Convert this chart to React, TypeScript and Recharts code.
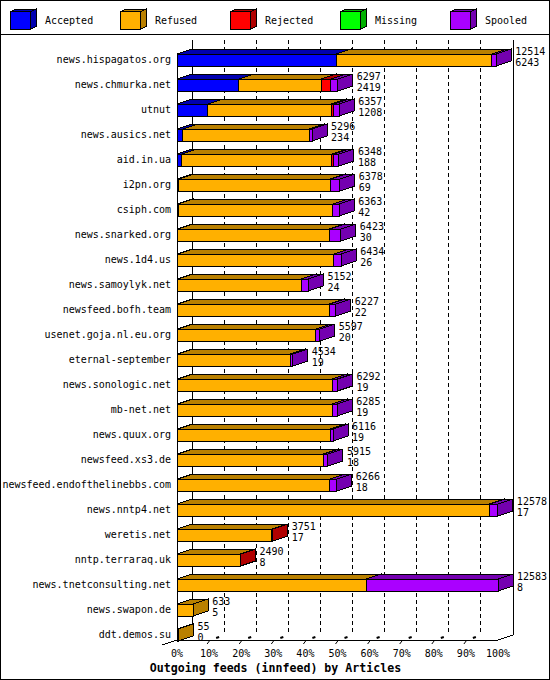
import React from "react";
import {
  BarChart,
  Bar,
  XAxis,
  YAxis,
  CartesianGrid,
  ReferenceArea,
  LabelList,
  Legend,
  Label,
} from "recharts";

const NAMES = [
  "news.hispagatos.org",
  "news.chmurka.net",
  "utnut",
  "news.ausics.net",
  "aid.in.ua",
  "i2pn.org",
  "csiph.com",
  "news.snarked.org",
  "news.1d4.us",
  "news.samoylyk.net",
  "newsfeed.bofh.team",
  "usenet.goja.nl.eu.org",
  "eternal-september",
  "news.sonologic.net",
  "mb-net.net",
  "news.quux.org",
  "newsfeed.xs3.de",
  "newsfeed.endofthelinebbs.com",
  "news.nntp4.net",
  "weretis.net",
  "nntp.terraraq.uk",
  "news.tnetconsulting.net",
  "news.swapon.de",
  "ddt.demos.su",
];

const OFFERED = [
  12514, 6297, 6357, 5296, 6348, 6378, 6363, 6423, 6434, 5152, 6227, 5597,
  4534, 6292, 6285, 6116, 5915, 6266, 12578, 3751, 2490, 12583, 633, 55,
];
const ACCEPTED = [
  6243, 2419, 1208, 234, 188, 69, 42, 30, 26, 24, 22, 20, 19, 19, 19, 19, 18,
  18, 17, 17, 8, 8, 5, 0,
];
const REFUSED = [
  6101, 3230, 4836, 4962, 5886, 5950, 6073, 5949, 6118, 4841, 5957, 5427,
  4420, 6064, 6066, 5979, 5710, 5974, 12234, 3700, 2462, 7401, 628, 55,
];
const REJECTED = [
  0, 376, 105, 0, 78, 0, 0, 0, 0, 0, 0, 0, 0, 0, 0, 0, 30, 0, 0, 34, 20, 0, 0,
  0,
];
const MISSING = [
  0, 0, 0, 0, 0, 0, 0, 0, 0, 0, 0, 0, 0, 0, 0, 0, 0, 0, 0, 0, 0, 0, 0, 0,
];
const SPOOLED = [
  170, 272, 208, 100, 196, 359, 248, 444, 290, 287, 248, 150, 95, 209, 200,
  118, 157, 274, 327, 0, 0, 5174, 0, 0,
];

const SERIES = ["Accepted", "Refused", "Rejected", "Missing", "Spooled"];
const FRONT = ["#0000ff", "#ffb000", "#ff0000", "#00ff00", "#aa00ff"];
const DARK = ["#0000b0", "#b98000", "#b00000", "#00b000", "#7400b0"];
const PCT = [0, 10, 20, 30, 40, 50, 60, 70, 80, 90, 100];
const TITLE = "Outgoing feeds (innfeed) by Articles";

const MONO = "'DejaVu Sans Mono', monospace";
const DX = 15;
const DY = 5;

const rows = NAMES.map((name, i) => ({
  name,
  Accepted: ACCEPTED[i],
  Refused: REFUSED[i],
  Rejected: REJECTED[i],
  Missing: MISSING[i],
  Spooled: SPOOLED[i],
  label: `${OFFERED[i]}\n${ACCEPTED[i]}`,
}));

const MAX = Math.max(...OFFERED);
const TICKS = PCT.map((p) => (MAX * p) / 100);

// one segment of a bar, drawn as a small box
function makePrism(si: number) {
  return (props: any) => {
    const { x, y, width, height } = props;
    if (!(width > 0)) return <g />;
    const x2 = x + width;
    const y2 = y + height;
    return (
      <g stroke="#000" strokeWidth={1} shapeRendering="crispEdges">
        <polygon
          points={`${x},${y} ${x + DX},${y - DY} ${x2 + DX},${y - DY} ${x2},${y}`}
          fill={DARK[si]}
        />
        <polygon
          points={`${x2},${y} ${x2 + DX},${y - DY} ${x2 + DX},${y2 - DY} ${x2},${y2}`}
          fill={DARK[si]}
        />
        <rect x={x} y={y} width={width} height={height} fill={FRONT[si]} />
      </g>
    );
  };
}

function ValueLabel(props: any) {
  const vb = props.viewBox || {};
  const x = props.x ?? vb.x;
  const y = props.y ?? vb.y;
  const width = props.width ?? vb.width ?? 0;
  const [a, b] = String(props.value).split("\n");
  const tx = x + width + DX + 4;
  return (
    <g fontFamily={MONO} fontSize={10} fill="#000">
      <text x={tx} y={y + 0.5}>{a}</text>
      <text x={tx} y={y + 11.5}>{b}</text>
    </g>
  );
}

function GridLine(props: any) {
  const { x1, y1, y2 } = props;
  return (
    <line
      x1={x1 + DX}
      x2={x1 + DX}
      y1={y1 - 7}
      y2={y2 - 12}
      stroke="#000"
      strokeDasharray="4 3"
      shapeRendering="crispEdges"
    />
  );
}

function Frame(props: any) {
  const { x, y, width, height } = props;
  const b = y + height - 7;
  return (
    <g stroke="#000" strokeWidth={1} fill="none" shapeRendering="crispEdges">
      <line x1={x + DX} y1={y - 7} x2={x + DX} y2={b - DY} />
      <line x1={x + width + DX} y1={y - 7} x2={x + width + DX} y2={b - DY} />
      <line x1={x} y1={y + 6} x2={x} y2={b} />
      <line x1={x} y1={b} x2={x + width} y2={b} />
      <line x1={x + width} y1={b} x2={x + width + DX} y2={b - DY} />
      <line x1={x - DX} y1={b + DY} x2={x} y2={b} />
    </g>
  );
}

function XTick(props: any) {
  const { x, y, payload, index } = props;
  const pct = Math.round((payload.value / MAX) * 100);
  return (
    <g>
      <text x={x} y={y + 9.5} textAnchor="middle" fontFamily={MONO} fontSize={10} fill="#000">
        {pct}%
      </text>
      {index > 0 && index < PCT.length - 1 && (
        <g stroke="#000">
          <line x1={x + 1} y1={y - 7} x2={x - 2} y2={y - 3} />
          <line x1={x + 7} y1={y - 9} x2={x + 10} y2={y - 10} strokeWidth={2} />
        </g>
      )}
    </g>
  );
}

function TitleLabel(props: any) {
  const vb = props.viewBox;
  return (
    <text
      x={vb.x + vb.width / 2 - 62}
      y={vb.y + 24.5}
      textAnchor="middle"
      fontFamily={MONO}
      fontSize={11.6}
      fontWeight="bold"
      fill="#000"
    >
      {TITLE}
    </text>
  );
}

function LegendBoxes() {
  return (
    <svg width={550} height={35} style={{ display: "block" }}>
      {SERIES.map((s, i) => {
        const x = 10.5 + 110 * i;
        return (
          <g key={s}>
            <g stroke="#000" shapeRendering="crispEdges">
              <polygon points={`${x},11.5 ${x + 6},9 ${x + 26},9 ${x + 20},11.5`} fill={DARK[i]} />
              <polygon points={`${x + 20},11.5 ${x + 26},9 ${x + 26},26.5 ${x + 20},29`} fill={DARK[i]} />
              <rect x={x} y={11.5} width={20} height={17.5} fill={FRONT[i]} />
            </g>
            <text x={x + 34.5} y={24} fontFamily={MONO} fontSize={10} fill="#000">
              {s}
            </text>
          </g>
        );
      })}
      <line x1={0} y1={34.5} x2={550} y2={34.5} stroke="#000" />
    </svg>
  );
}

export default function App() {
  return (
    <div style={{ position: "absolute", left: 0, top: 0, width: 550, height: 680, background: "#fff" }}>
      <BarChart
        layout="vertical"
        width={550}
        height={680}
        data={rows}
        margin={{ top: 12, right: 52, bottom: 0, left: 0 }}
        barSize={12}
      >
        <Legend
          verticalAlign="top"
          align="left"
          wrapperStyle={{ top: 0, left: 0, width: 550, height: 35, margin: 0, padding: 0 }}
          content={() => <LegendBoxes />}
        />
        <CartesianGrid horizontal={false} vertical={GridLine} />
        <ReferenceArea x1={0} x2={MAX} shape={Frame} ifOverflow="visible" />
        <XAxis
          type="number"
          domain={[0, MAX]}
          ticks={TICKS}
          interval={0}
          height={33}
          axisLine={false}
          tickLine={false}
          tickSize={0}
          tickMargin={0}
          tick={XTick}
        >
          <Label content={TitleLabel} />
        </XAxis>
        <YAxis
          type="category"
          dataKey="name"
          width={177}
          interval={0}
          axisLine={false}
          tickLine={false}
          tickSize={0}
          tickMargin={6}
          tick={{ fontFamily: MONO, fontSize: 10, fill: "#000" }}
        />
        {SERIES.map((s, si) => (
          <Bar
            key={s}
            dataKey={s}
            stackId="a"
            fill={FRONT[si]}
            shape={makePrism(si)}
            isAnimationActive={false}
          >
            {si === SERIES.length - 1 && <LabelList dataKey="label" content={ValueLabel} />}
          </Bar>
        ))}
      </BarChart>
      <div
        style={{
          position: "absolute",
          left: 0,
          top: 0,
          width: 550,
          height: 680,
          boxSizing: "border-box",
          border: "1px solid #000",
          pointerEvents: "none",
        }}
      />
    </div>
  );
}
